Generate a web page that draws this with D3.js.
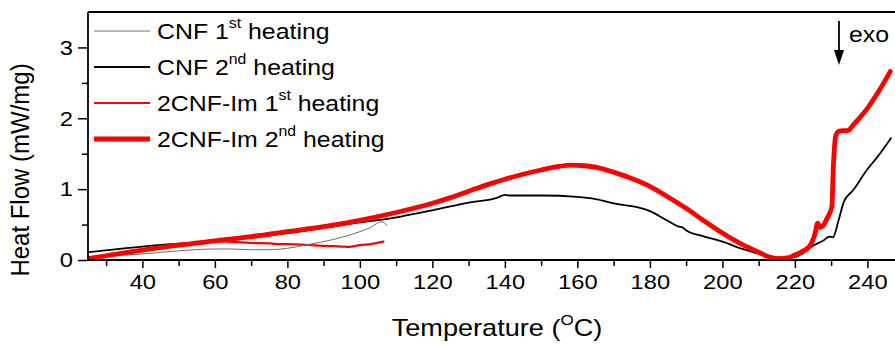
<!DOCTYPE html>
<html>
<head>
<meta charset="utf-8">
<script src="https://cdn.jsdelivr.net/npm/d3@7"></script>
<style>
  html, body { margin: 0; padding: 0; background: #fff; }
  text { font-family: Arial, "Liberation Sans", sans-serif; fill: #000; }
</style>
</head>
<body>
<svg id="chart" width="895" height="345"></svg>
<script>
// ---------------- data ----------------
const cnf1T = [25, 30, 40, 50, 60, 65, 70, 75, 80, 85, 90, 95, 100, 103, 106, 107.5];
const cnf1V = [0.05, 0.06, 0.085, 0.13, 0.155, 0.155, 0.145, 0.145, 0.165, 0.21, 0.26, 0.32, 0.40, 0.46, 0.54, 0.49];

const cnf2T = [25, 40, 60, 80, 100, 111, 120, 130, 138, 140, 141, 150, 160, 165, 170, 172, 175, 180, 185, 188, 189, 190, 195, 200, 205, 210, 213, 217, 220, 222, 225, 228, 229.5, 230.5, 232, 233.5, 236, 240, 243, 246.5];
const cnf2V = [0.11, 0.19, 0.27, 0.38, 0.53, 0.61, 0.70, 0.81, 0.88, 0.92, 0.91, 0.91, 0.89, 0.86, 0.80, 0.78, 0.76, 0.69, 0.55, 0.47, 0.46, 0.42, 0.33, 0.26, 0.165, 0.09, 0.05, 0.03, 0.04, 0.09, 0.20, 0.28, 0.33, 0.32, 0.55, 0.82, 0.98, 1.28, 1.47, 1.72];

const im1T = [25, 40, 50, 60, 65, 70, 75, 77, 80, 85, 90, 95, 97, 100, 103, 106.5];
const im1V = [0.02, 0.14, 0.21, 0.265, 0.255, 0.24, 0.235, 0.225, 0.225, 0.215, 0.20, 0.19, 0.185, 0.21, 0.225, 0.26];

const im2T = [25, 30, 40, 50, 60, 70, 80, 90, 100, 110, 120, 125, 130, 135, 140, 145, 150, 155, 158, 162, 165, 170, 175, 180, 185, 190, 195, 200, 205, 210, 213, 215, 218, 220, 222, 224, 225.5, 226.3, 227, 228, 229, 230.2, 230.6, 231.3, 232.2, 234.8, 236, 240, 243, 246.3];
const im2V = [0.02, 0.06, 0.14, 0.21, 0.27, 0.33, 0.40, 0.47, 0.56, 0.67, 0.80, 0.88, 0.97, 1.06, 1.14, 1.21, 1.27, 1.32, 1.34, 1.33, 1.31, 1.24, 1.15, 1.04, 0.89, 0.73, 0.55, 0.38, 0.23, 0.11, 0.04, 0.02, 0.03, 0.07, 0.12, 0.19, 0.36, 0.52, 0.46, 0.50, 0.60, 0.75, 1.30, 1.76, 1.82, 1.83, 1.90, 2.14, 2.37, 2.66];

const xTicks = [40, 60, 80, 100, 120, 140, 160, 180, 200, 220, 240];
const xMinor = [30, 50, 70, 90, 110, 130, 150, 170, 190, 210, 230];
const yTicks = [0, 1, 2, 3];
const yMinor = [0.5, 1.5, 2.5];

const seriesNames = ["CNF 1", "CNF 2", "2CNF-Im 1", "2CNF-Im 2"];
const seriesSup = ["st", "nd", "st", "nd"];

// ---------------- layout ----------------
const svg = d3.select("#chart");
const L = 88, T = 12, B = 260, R = 896;
const SX = 1.13; // horizontal stretch of the lettering
const x = d3.scaleLinear().domain([25, 248]).range([L, L + 223 * 3.625]);
const y = d3.scaleLinear().domain([0, 3.5]).range([B, T]);

svg.append("defs").append("clipPath").attr("id", "clip")
  .append("rect").attr("x", L).attr("y", T).attr("width", R - L).attr("height", B - T);

const series = [
  { t: cnf1T, v: cnf1V, color: "#6e6e6e", w: 1.0 },
  { t: cnf2T, v: cnf2V, color: "#000000", w: 1.8 },
  { t: im1T, v: im1V, color: "#ff0000", w: 2.2 },
  { t: im2T, v: im2V, color: "#ff0000", w: 4.8 }
];

const line = d3.line().x(d => x(d[0])).y(d => y(d[1])).curve(d3.curveMonotoneX);
const g = svg.append("g").attr("clip-path", "url(#clip)");
[2, 0, 1, 3].forEach(i => {
  const s = series[i];
  g.append("path")
    .datum(s.t.map((t, k) => [t, s.v[k]]))
    .attr("fill", "none")
    .attr("stroke", s.color)
    .attr("stroke-width", s.w)
    .attr("stroke-linejoin", "round")
    .attr("stroke-linecap", "round")
    .attr("d", line);
});

// ---------------- axes ----------------
const xAxis = svg.append("g").attr("transform", `translate(0,${B})`)
  .call(d3.axisBottom(x).tickValues(xTicks).tickSize(8).tickPadding(6).tickFormat(d3.format("d")));
svg.append("g").attr("transform", `translate(0,${B})`)
  .call(d3.axisBottom(x).tickValues(xMinor).tickSize(6).tickFormat(""))
  .call(g => g.select(".domain").remove());
const yAxis = svg.append("g").attr("transform", `translate(${L},0)`)
  .call(d3.axisLeft(y).tickValues(yTicks).tickSize(10).tickPadding(5).tickFormat(d3.format("d")));
svg.append("g").attr("transform", `translate(${L},0)`)
  .call(d3.axisLeft(y).tickValues(yMinor).tickSize(6).tickFormat(""))
  .call(g => g.select(".domain").remove());

svg.selectAll(".tick line").attr("stroke", "#000").attr("stroke-width", 1.5);
svg.selectAll(".tick text").attr("font-size", 21).attr("font-family", "Arial, 'Liberation Sans', sans-serif").attr("fill", "#000");
xAxis.selectAll(".tick text").attr("transform", `scale(${SX},1)`);
yAxis.selectAll(".tick text").attr("x", -15 / SX).attr("transform", `scale(${SX},1)`);
xAxis.select(".domain").attr("d", `M${L},0H${R}`).attr("stroke-width", 1.8);
yAxis.select(".domain").attr("d", `M0,${B}V${T}`).attr("stroke-width", 1.8);
svg.append("line").attr("x1", L).attr("x2", R).attr("y1", T).attr("y2", T)
  .attr("stroke", "#000").attr("stroke-width", 1.8);

// stretched text helper
function stext(px, py, size) {
  return svg.append("text").attr("x", px / SX).attr("y", py)
    .attr("transform", `scale(${SX},1)`).attr("font-size", size);
}

// axis titles
const xt = stext(497, 336, 24).attr("text-anchor", "middle");
xt.append("tspan").text("Temperature (");
xt.append("tspan").attr("font-size", 15).attr("dy", -11).text("O");
xt.append("tspan").attr("dy", 11).text("C)");

svg.append("text")
  .attr("transform", "translate(29,170) rotate(-90) scale(1,1.08)")
  .attr("text-anchor", "middle").attr("font-size", 24)
  .text("Heat Flow (mW/mg)");

// ---------------- legend ----------------
const legY = [31, 67, 103, 139];
series.forEach((s, i) => {
  svg.append("line").attr("x1", 94).attr("x2", 150).attr("y1", legY[i]).attr("y2", legY[i])
    .attr("stroke", s.color).attr("stroke-width", s.w);
  const tx = stext(157, legY[i] + 8, 22);
  tx.append("tspan").text(seriesNames[i]);
  tx.append("tspan").attr("font-size", 14).attr("dy", -11).text(seriesSup[i]);
  tx.append("tspan").attr("dy", 11).text(" heating");
});

// ---------------- exo arrow ----------------
svg.append("line").attr("x1", 839).attr("x2", 839).attr("y1", 21).attr("y2", 52)
  .attr("stroke", "#000").attr("stroke-width", 1.8);
svg.append("path").attr("d", "M834,50 L844,50 L839,65 Z").attr("fill", "#000");
stext(849, 42, 22).text("exo");
</script>
</body>
</html>
